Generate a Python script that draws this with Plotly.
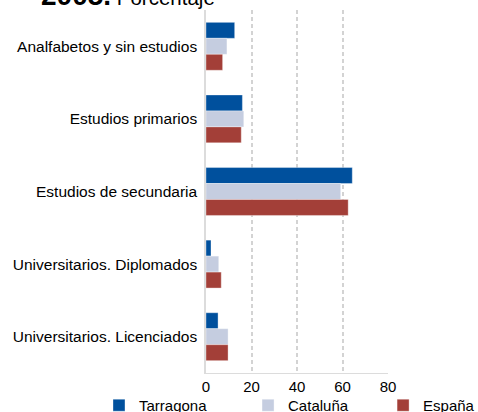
import plotly.graph_objects as go

# Nivel de estudios, 2005 (porcentaje)
categorias = [
    "Analfabetos y sin estudios",
    "Estudios primarios",
    "Estudios de secundaria",
    "Universitarios. Diplomados",
    "Universitarios. Licenciados",
]
tarragona = [12.6, 16.0, 64.3, 2.2, 5.3]
cataluna = [9.2, 16.6, 59.2, 5.6, 9.7]
espana = [7.3, 15.5, 62.5, 6.7, 9.7]

series = [
    ("Tarragona", tarragona, "#00509d", "legend"),
    ("Cataluña", cataluna, "#c5cde0", "legend2"),
    ("España", espana, "#a33f38", "legend3"),
]
# left edge of each legend entry, in plot-width fractions
legend_x = {"legend": -0.588, "legend2": 0.231, "legend3": 0.973}

FONT = "Liberation Sans, Arial, sans-serif"

fig = go.Figure()
for nombre, valores, color, leyenda in series:
    fig.add_trace(go.Bar(
        y=categorias,
        x=valores,
        name=nombre,
        orientation="h",
        legend=leyenda,
        marker=dict(color=color, line=dict(color="rgba(255,255,255,0.35)", width=1)),
    ))

legend_style = dict(
    orientation="h",
    xanchor="left",
    y=-0.044,
    yanchor="top",
    font=dict(family=FONT, size=15, color="#000000"),
    itemclick=False,
    bgcolor="rgba(0,0,0,0)",
)

fig.update_layout(
    width=478,
    height=412,
    margin=dict(l=206, r=90, t=10, b=39, autoexpand=False),
    paper_bgcolor="white",
    plot_bgcolor="white",
    barmode="group",
    bargap=0.34,
    bargroupgap=0,
    font=dict(family=FONT, size=15, color="#000000"),
    showlegend=True,
    legend=dict(x=legend_x["legend"], **legend_style),
    legend2=dict(x=legend_x["legend2"], **legend_style),
    legend3=dict(x=legend_x["legend3"], **legend_style),
    xaxis=dict(
        range=[0, 80],
        tickvals=[0, 20, 40, 60, 80],
        showgrid=True,
        gridcolor="#d3d3d3",
        griddash="4px,3px",
        gridwidth=1.5,
        zeroline=False,
        showline=True,
        linecolor="#dcdcdc",
        linewidth=1,
        ticks="",
        tickfont=dict(family=FONT, size=15, color="#000000"),
    ),
    yaxis=dict(
        autorange="reversed",
        showgrid=False,
        showline=True,
        linecolor="#dcdcdc",
        linewidth=1.5,
        ticks="",
        ticklabelstandoff=4,
        tickfont=dict(family=FONT, size=15.5, color="#000000"),
    ),
    annotations=[
        dict(
            text="<b><span style='font-size:28px'>2005.</span></b> Porcentaje",
            xref="paper",
            yref="paper",
            x=-0.917,
            y=1.0,
            xanchor="left",
            yanchor="bottom",
            yshift=-3,
            showarrow=False,
            font=dict(family=FONT, size=20.5, color="#000000"),
        )
    ],
)

fig.write_html("out.html")
